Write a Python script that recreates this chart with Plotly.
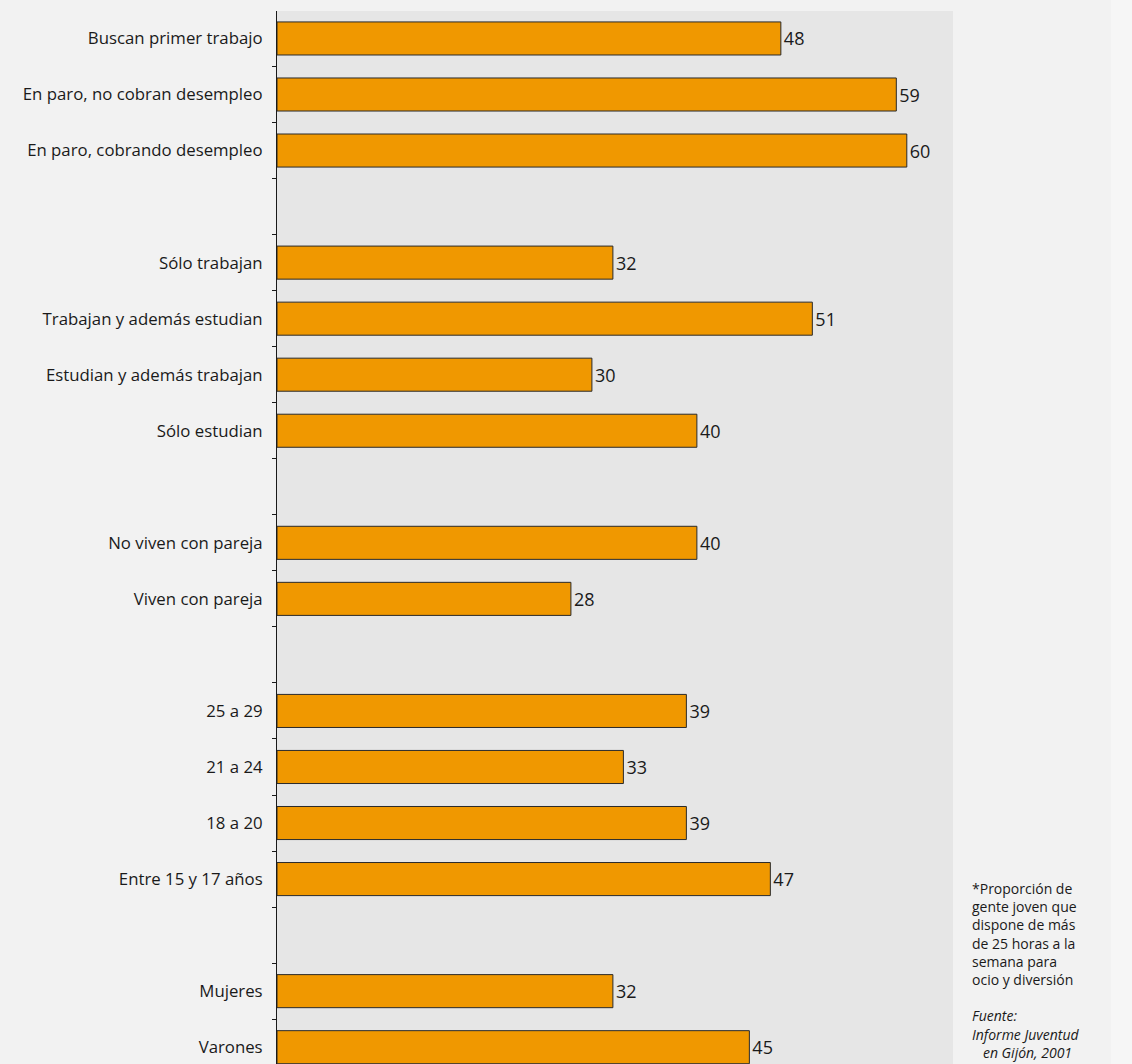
import plotly.graph_objects as go

# Category slots from top to bottom (blank strings are the gaps between groups)
categories = [
    "Buscan primer trabajo",
    "En paro, no cobran desempleo",
    "En paro, cobrando desempleo",
    " ",
    "Sólo trabajan",
    "Trabajan y además estudian",
    "Estudian y además trabajan",
    "Sólo estudian",
    "  ",
    "No viven con pareja",
    "Viven con pareja",
    "   ",
    "25 a 29",
    "21 a 24",
    "18 a 20",
    "Entre 15 y 17 años",
    "    ",
    "Mujeres",
    "Varones",
]
values = [48, 59, 60, None, 32, 51, 30, 40, None, 40, 28, None, 39, 33, 39, 47, None, 32, 45]

bar_cats = [c for c, v in zip(categories, values) if v is not None]
bar_vals = [v for v in values if v is not None]

note_lines = [
    "*Proporción de",
    "gente joven que",
    "dispone de más",
    "de 25 horas a la",
    "semana para",
    "ocio y diversión",
]
source_lines = ["<i>Fuente:</i>", "<i>Informe Juventud</i>", "<i>   en Gijón, 2001</i>"]

FONT = "Open Sans, Liberation Sans, Arial, sans-serif"

fig = go.Figure(
    go.Bar(
        x=bar_vals,
        y=bar_cats,
        orientation="h",
        width=0.59,
        marker=dict(color="#f09800", line=dict(color="#2a2a2a", width=1)),
        text=[str(v) for v in bar_vals],
        textposition="outside",
        textfont=dict(size=18, color="#1a1a1a", family=FONT),
        cliponaxis=False,
        hoverinfo="skip",
    )
)

fig.update_layout(
    width=1132,
    height=1064,
    margin=dict(l=277, r=179, t=11, b=0),
    paper_bgcolor="#f2f2f2",
    plot_bgcolor="#e6e6e6",
    showlegend=False,
    font=dict(family=FONT, size=16, color="#1a1a1a"),
    xaxis=dict(
        range=[0, 64.4],
        showgrid=False,
        zeroline=False,
        showticklabels=False,
        ticks="",
        showline=False,
    ),
    yaxis=dict(
        type="category",
        categoryorder="array",
        categoryarray=categories,
        range=[18.3, -0.49],
        tickson="boundaries",
        ticks="outside",
        ticklen=4,
        tickcolor="#1a1a1a",
        showline=True,
        linecolor="#1a1a1a",
        linewidth=1,
        showgrid=False,
        zeroline=False,
        ticklabelstandoff=10,
        tickfont=dict(size=16.8, color="#1a1a1a", family=FONT),
    ),
    shapes=[
        dict(
            type="rect", xref="paper", yref="paper",
            x0=(1111 - 277) / 676, x1=(1132 - 277) / 676, y0=-0.01, y1=1.02,
            fillcolor="#f6f6f6", line=dict(width=0), layer="below",
        )
    ],
    annotations=[
        dict(
            xref="paper", yref="paper",
            x=(970 - 277) / 676, y=(1064 - 877) / 1053,
            xanchor="left", yanchor="top", align="left",
            text="<br>".join(note_lines + [""] + source_lines),
            showarrow=False,
            font=dict(size=14, color="#1a1a1a", family=FONT),
        )
    ],
)

fig.write_html(
    "out.html",
    config={"displayModeBar": False},
    post_script="document.body.style.margin='0';document.body.style.background='#f2f2f2';",
)
